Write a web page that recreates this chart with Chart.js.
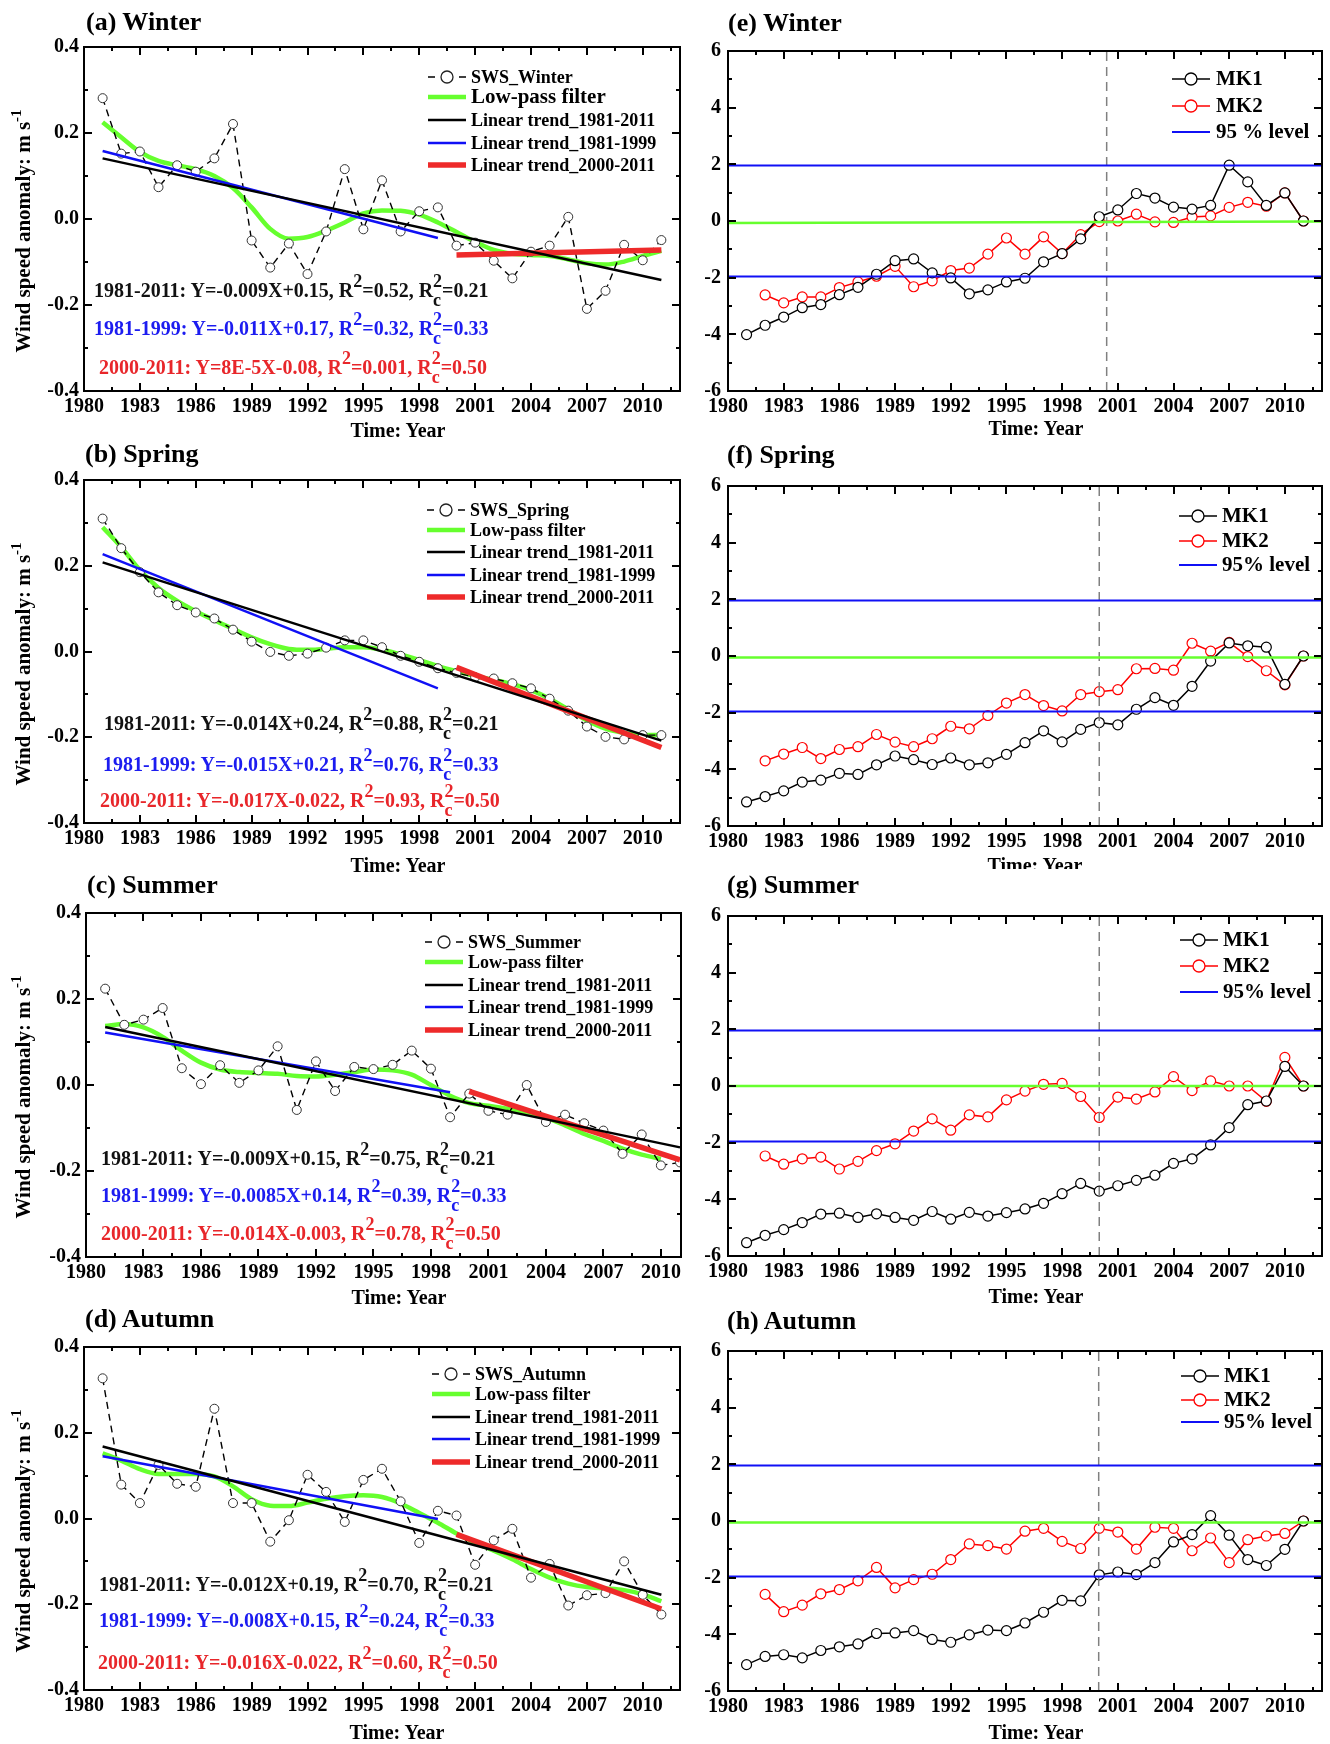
<!DOCTYPE html>
<html><head><meta charset="utf-8">
<script src="https://cdn.jsdelivr.net/npm/chart.js@4.4.0/dist/chart.umd.min.js"></script>
<style>
html,body{margin:0;padding:0;background:#fff;}
body{width:1330px;height:1744px;position:relative;overflow:hidden;font-family:"Liberation Serif","Times New Roman",serif;font-weight:bold;color:#000;}
canvas{position:absolute;}
.t{position:absolute;white-space:nowrap;z-index:3;}
.ptitle{font-size:26px;line-height:30px;z-index:7;}
.eq{font-size:20px;line-height:24px;}
.xt{font-size:20px;line-height:24px;transform:translateX(-50%);}
.yt{font-size:21px;line-height:24px;transform:translate(-50%,-50%) rotate(-90deg);}
.sp{font-size:18px;position:relative;top:-10px;}
.st{display:inline-block;position:relative;width:9px;height:0;}
.st .a{position:absolute;left:0;top:-25px;font-size:18px;line-height:18px;}
.st .b{position:absolute;left:0;top:-6px;font-size:18px;line-height:18px;}
.ysup{font-size:15px;position:relative;top:-9px;}
.mask{position:absolute;background:#fff;z-index:5;}
</style></head>
<body>
<script>
// ---------------- DATA ----------------
const YEARS = [1981,1982,1983,1984,1985,1986,1987,1988,1989,1990,1991,1992,1993,1994,1995,1996,1997,1998,1999,2000,2001,2002,2003,2004,2005,2006,2007,2008,2009,2010,2011];
const YEARS_MK2 = [1982,1983,1984,1985,1986,1987,1988,1989,1990,1991,1992,1993,1994,1995,1996,1997,1998,1999,2000,2001,2002,2003,2004,2005,2006,2007,2008,2009,2010,2011];
const YEARS_LP_SUMMER = [1981,1982,1983,1984,1985,1986,1987,1988,1989,1990,1991,1992,1993,1994,1995,1996,1997,1998,1999,2000,2001,2002,2003,2004,2005,2006,2007,2008,2009,2010];
const X_TICK_STEP = 3;

const SWS_WINTER = [0.281,0.152,0.157,0.074,0.125,0.11,0.141,0.221,-0.050,-0.113,-0.057,-0.128,-0.029,0.116,-0.024,0.090,-0.029,0.018,0.027,-0.062,-0.055,-0.097,-0.138,-0.076,-0.062,0.005,-0.209,-0.167,-0.060,-0.096,-0.049];
const LP_WINTER = [0.225,0.19,0.156,0.135,0.125,0.116,0.10,0.072,0.027,-0.023,-0.046,-0.042,-0.027,-0.008,0.013,0.02,0.019,0.01,-0.008,-0.03,-0.053,-0.072,-0.081,-0.084,-0.086,-0.094,-0.103,-0.106,-0.099,-0.086,-0.074];
const SWS_SPRING = [0.31,0.241,0.185,0.138,0.108,0.091,0.077,0.051,0.023,-0.001,-0.01,-0.005,0.009,0.026,0.026,0.01,-0.01,-0.024,-0.039,-0.05,-0.06,-0.063,-0.074,-0.086,-0.11,-0.138,-0.175,-0.199,-0.205,-0.195,-0.195];
const LP_SPRING = [0.29,0.243,0.19,0.148,0.118,0.094,0.073,0.053,0.033,0.017,0.006,0.004,0.006,0.01,0.01,0.004,-0.007,-0.02,-0.034,-0.046,-0.057,-0.066,-0.076,-0.09,-0.11,-0.135,-0.161,-0.18,-0.19,-0.195,-0.195];
const SWS_SUMMER = [0.224,0.14,0.152,0.179,0.039,0.002,0.046,0.005,0.034,0.09,-0.058,0.055,-0.014,0.042,0.037,0.047,0.08,0.038,-0.075,-0.02,-0.06,-0.069,0.0,-0.086,-0.069,-0.089,-0.106,-0.16,-0.115,-0.187,-0.18];
const LP_SUMMER = [0.137,0.142,0.134,0.112,0.08,0.052,0.036,0.03,0.028,0.026,0.021,0.02,0.024,0.03,0.036,0.034,0.024,0.0,-0.025,-0.042,-0.048,-0.055,-0.064,-0.076,-0.094,-0.114,-0.13,-0.148,-0.162,-0.172];
const SWS_AUTUMN = [0.327,0.079,0.036,0.125,0.081,0.074,0.256,0.036,0.036,-0.054,-0.004,0.102,0.062,-0.008,0.09,0.116,0.04,-0.057,0.018,0.007,-0.108,-0.051,-0.024,-0.138,-0.106,-0.203,-0.179,-0.174,-0.1,-0.178,-0.224];
const LP_AUTUMN = [0.152,0.135,0.115,0.104,0.104,0.104,0.098,0.075,0.045,0.03,0.029,0.037,0.046,0.052,0.054,0.05,0.035,0.013,-0.01,-0.035,-0.057,-0.075,-0.095,-0.118,-0.138,-0.152,-0.16,-0.163,-0.167,-0.177,-0.193];

const TREND_X_ALL = [1981, 2011];
const TREND_X_8199 = [1981, 1999];
const TREND_X_0011 = [2000, 2011];
const TR_ALL_WINTER = [0.141, -0.142];
const TR_8199_WINTER = [0.158, -0.044];
const TR_0011_WINTER = [-0.084, -0.072];
const TR_ALL_SPRING = [0.208, -0.208];
const TR_8199_SPRING = [0.227, -0.086];
const TR_0011_SPRING = [-0.037, -0.224];
const TR_ALL_SUMMER = [0.135, -0.145];
const TR_8199_SUMMER = [0.122, -0.017];
const TR_0011_SUMMER = [-0.015, -0.174];
const TR_ALL_AUTUMN = [0.168, -0.178];
const TR_8199_AUTUMN = [0.145, -0.001];
const TR_0011_AUTUMN = [-0.037, -0.211];

const MK1_WINTER = [-4.01,-3.68,-3.39,-3.06,-2.95,-2.60,-2.34,-1.88,-1.40,-1.34,-1.83,-2.01,-2.57,-2.43,-2.15,-2.02,-1.44,-1.15,-0.63,0.15,0.39,0.97,0.81,0.49,0.42,0.55,1.97,1.38,0.55,0.99,0.0];
const MK2_WINTER = [-2.61,-2.89,-2.68,-2.68,-2.35,-2.15,-1.95,-1.60,-2.32,-2.11,-1.75,-1.66,-1.17,-0.60,-1.17,-0.56,-1.15,-0.48,-0.02,0.0,0.24,-0.03,-0.05,0.14,0.18,0.48,0.66,0.52,0.99,0.0];
const MK1_SPRING = [-5.15,-4.96,-4.76,-4.45,-4.38,-4.14,-4.18,-3.84,-3.53,-3.66,-3.83,-3.60,-3.84,-3.77,-3.47,-3.06,-2.64,-3.03,-2.59,-2.35,-2.43,-1.88,-1.47,-1.74,-1.07,-0.18,0.46,0.36,0.31,-1.0,0.0];
const MK2_SPRING = [-3.70,-3.46,-3.23,-3.62,-3.30,-3.20,-2.77,-3.04,-3.20,-2.92,-2.48,-2.57,-2.10,-1.66,-1.36,-1.75,-1.94,-1.36,-1.26,-1.19,-0.45,-0.44,-0.50,0.45,0.17,0.48,-0.02,-0.52,-1.02,0.0];
const MK1_SUMMER = [-5.53,-5.27,-5.07,-4.82,-4.52,-4.49,-4.64,-4.51,-4.64,-4.74,-4.43,-4.70,-4.46,-4.59,-4.47,-4.34,-4.14,-3.80,-3.44,-3.71,-3.52,-3.33,-3.15,-2.73,-2.57,-2.08,-1.47,-0.66,-0.53,0.69,0.0];
const MK2_SUMMER = [-2.47,-2.76,-2.57,-2.51,-2.93,-2.66,-2.28,-2.04,-1.59,-1.16,-1.56,-1.02,-1.09,-0.49,-0.18,0.06,0.09,-0.37,-1.11,-0.39,-0.46,-0.21,0.33,-0.16,0.18,0.0,0.0,-0.54,1.01,0.0];
const MK1_AUTUMN = [-5.07,-4.78,-4.72,-4.83,-4.57,-4.44,-4.34,-3.97,-3.95,-3.87,-4.18,-4.28,-4.02,-3.85,-3.87,-3.60,-3.22,-2.80,-2.82,-1.90,-1.80,-1.89,-1.47,-0.74,-0.48,0.19,-0.5,-1.36,-1.57,-1.0,0.0];
const MK2_AUTUMN = [-2.59,-3.2,-2.97,-2.57,-2.42,-2.11,-1.64,-2.36,-2.07,-1.88,-1.36,-0.81,-0.87,-0.99,-0.36,-0.26,-0.72,-0.97,-0.26,-0.39,-0.99,-0.22,-0.26,-1.05,-0.60,-1.47,-0.66,-0.53,-0.44,0.0];

const MK_LINE_X = [1980, 2012];
const CONF_UP = [1.96, 1.96];
const CONF_DN = [-1.96, -1.96];
const REF_WINTER = [-0.07, -0.02];
const REF_SPRING = [-0.05, -0.05];
const REF_SUMMER = [0.0, 0.0];
const REF_AUTUMN = [-0.05, -0.05];
const CHANGE_YEAR = {winter: 2000.4, spring: 2000, summer: 2000, autumn: 1999.97};

const EQ = {
  a: [['1981-2011','Y=-0.009X+0.15','0.52','0.21'],['1981-1999','Y=-0.011X+0.17','0.32','0.33'],['2000-2011','Y=8E-5X-0.08','0.001','0.50']],
  b: [['1981-2011','Y=-0.014X+0.24','0.88','0.21'],['1981-1999','Y=-0.015X+0.21','0.76','0.33'],['2000-2011','Y=-0.017X-0.022','0.93','0.50']],
  c: [['1981-2011','Y=-0.009X+0.15','0.75','0.21'],['1981-1999','Y=-0.0085X+0.14','0.39','0.33'],['2000-2011','Y=-0.014X-0.003','0.78','0.50']],
  d: [['1981-2011','Y=-0.012X+0.19','0.70','0.21'],['1981-1999','Y=-0.008X+0.15','0.24','0.33'],['2000-2011','Y=-0.016X-0.022','0.60','0.50']]
};

// ---------------- STYLE / LAYOUT ----------------
const FONT = '"Liberation Serif", "Times New Roman", serif';
const GREEN = '#66ff2e', BLUE = '#1010f5', RED = '#ee2a2a', EQBLUE = '#1c1cf0', EQRED = '#e8262a';

function pts(xs, ys){ return ys.map((v,i)=>({x:xs[i], y:v})); }

const framePlugin = {
  id: 'frameTicks',
  afterDraw(chart, args, o){
    const {ctx, chartArea:a, scales:{x, y}} = chart;
    ctx.save();
    ctx.strokeStyle = '#000'; ctx.lineWidth = 2; ctx.setLineDash([]);
    ctx.strokeRect(a.left, a.top, a.right-a.left, a.bottom-a.top);
    ctx.beginPath();
    const nX = Math.floor((x.max - x.min)/o.xMinor + 1e-6);
    for(let i=0;i<=nX;i++){
      const v = x.min + i*o.xMinor, px = Math.round(x.getPixelForValue(v));
      const r = (v - x.min)/o.xMajor, maj = Math.abs(r - Math.round(r)) < 1e-6;
      const L = maj ? 8 : 4;
      ctx.moveTo(px, a.bottom); ctx.lineTo(px, a.bottom - L);
      ctx.moveTo(px, a.top); ctx.lineTo(px, a.top + L);
    }
    const nY = Math.round((y.max - y.min)/o.yMinor);
    for(let i=0;i<=nY;i++){
      const v = y.min + i*o.yMinor, py = Math.round(y.getPixelForValue(v));
      const r = (v - y.min)/o.yMajor, maj = Math.abs(r - Math.round(r)) < 1e-6;
      const L = maj ? 8 : 4;
      ctx.moveTo(a.left, py); ctx.lineTo(a.left + L, py);
      ctx.moveTo(a.right, py); ctx.lineTo(a.right - L, py);
    }
    ctx.stroke();
    ctx.restore();
  }
};

const legendPlugin = {
  id: 'panelLegend',
  afterDraw(chart, args, o){
    if(!o || !o.items) return;
    const {ctx, chartArea:a} = chart;
    ctx.save();
    o.items.forEach((it,i)=>{
      const y = a.top + o.rows[i];
      const x0 = a.left + o.sx, x1 = x0 + o.sw, xc = (x0+x1)/2;
      ctx.strokeStyle = it.color; ctx.lineWidth = it.width; ctx.setLineDash([]);
      ctx.beginPath();
      if(it.kind === 'sws'){
        ctx.moveTo(x0, y); ctx.lineTo(x0+7, y);
        ctx.moveTo(x1-7, y); ctx.lineTo(x1, y);
      } else {
        ctx.moveTo(x0, y); ctx.lineTo(x1, y);
      }
      ctx.stroke();
      if(it.r){
        ctx.beginPath(); ctx.arc(xc, y, it.r, 0, Math.PI*2);
        ctx.fillStyle = '#fff'; ctx.fill();
        ctx.lineWidth = 1.3; ctx.strokeStyle = it.mcolor || it.color; ctx.stroke();
      }
      ctx.font = 'bold ' + (it.size || o.size) + 'px ' + FONT;
      ctx.fillStyle = '#000'; ctx.textBaseline = 'middle'; ctx.textAlign = 'left';
      ctx.fillText(it.text, a.left + o.tx, y + 1);
    });
    ctx.restore();
  }
};

function makeCanvas(left, top, w, h){
  const c = document.createElement('canvas');
  c.width = w; c.height = h;
  c.style.left = left+'px'; c.style.top = top+'px';
  c.style.width = w+'px'; c.style.height = h+'px';
  document.body.appendChild(c);
  return c;
}

function baseOptions(cvLeft, cvW, frame, xmax, y, legend){
  const [fl, ft, fr, fb] = frame;
  return {
    responsive:false, animation:false, devicePixelRatio:1,
    layout:{autoPadding:false, padding:{top:10, right:(cvLeft+cvW)-fr, left:0, bottom:0}},
    plugins:{legend:{display:false}, tooltip:{enabled:false},
      frameTicks:{xMinor:1.5, xMajor:3, yMinor:y.minor, yMajor:y.step},
      panelLegend: legend},
    scales:{
      x:{type:'linear', min:1980, max:xmax,
        ticks:{stepSize:X_TICK_STEP, includeBounds:false, autoSkip:false, maxRotation:0, padding:4, color:'#000',
          font:{family:FONT, weight:'bold', size:20}, callback:v=>String(Math.round(v))},
        grid:{display:false, drawTicks:false}, border:{display:false},
        afterFit:s=>{ s.height = 40; }},
      y:{type:'linear', min:y.min, max:y.max,
        ticks:{stepSize:y.step, padding:y.pad, color:'#000', font:{family:FONT, weight:'bold', size:20}, callback:y.fmt},
        grid:{display:false, drawTicks:false}, border:{display:false},
        afterFit:s=>{ s.width = fl - cvLeft; }}
    }
  };
}

const LEFT = [
  {key:'a', name:'SWS_Winter', frame:[84,40,680,391], xmax:2012, sws:SWS_WINTER, lp:LP_WINTER, lpX:YEARS, all:TR_ALL_WINTER, a8199:TR_8199_WINTER, a0011:TR_0011_WINTER, lg:{sx:344, sw:38, tx:387, rows:[30,50,73,96,118]}, lpSize:21},
  {key:'b', name:'SWS_Spring', frame:[84,473,680,823], xmax:2012, sws:SWS_SPRING, lp:LP_SPRING, lpX:YEARS, all:TR_ALL_SPRING, a8199:TR_8199_SPRING, a0011:TR_0011_SPRING, lg:{sx:343, sw:38, tx:386, rows:[30,50,72,95,117]}, lpSize:18},
  {key:'c', name:'SWS_Summer', frame:[86,906,681,1257], xmax:2011.05, sws:SWS_SUMMER, lp:LP_SUMMER, lpX:YEARS_LP_SUMMER, all:TR_ALL_SUMMER, a8199:TR_8199_SUMMER, a0011:TR_0011_SUMMER, lg:{sx:339, sw:38, tx:382, rows:[29,49,72,94,117]}, lpSize:18},
  {key:'d', name:'SWS_Autumn', frame:[84,1340,680,1690], xmax:2012, sws:SWS_AUTUMN, lp:LP_AUTUMN, lpX:YEARS, all:TR_ALL_AUTUMN, a8199:TR_8199_AUTUMN, a0011:TR_0011_AUTUMN, lg:{sx:348, sw:38, tx:391, rows:[27,47,70,92,115]}, lpSize:18}
];

LEFT.forEach(p=>{
  const [fl, ft, fr, fb] = p.frame;
  const cvL = 0, cvW = 700, cvT = ft - 10, cvH = (fb - ft) + 10 + 40;
  const cv = makeCanvas(cvL, cvT, cvW, cvH);
  const legend = Object.assign({size:18, items:[
    {kind:'sws', color:'#000', width:1.5, r:6, mcolor:'#222', text:p.name},
    {kind:'line', color:GREEN, width:4.5, text:'Low-pass filter', size:p.lpSize},
    {kind:'line', color:'#000', width:2.5, text:'Linear trend_1981-2011'},
    {kind:'line', color:BLUE, width:2.5, text:'Linear trend_1981-1999'},
    {kind:'line', color:RED, width:5.5, text:'Linear trend_2000-2011'}
  ]}, p.lg);
  const opts = baseOptions(cvL, cvW, p.frame, p.xmax,
    {min:-0.4, max:0.4, step:0.2, minor:0.1, pad:5, fmt:v=>(Math.abs(v)<1e-9?'0.0':v.toFixed(1))}, legend);
  new Chart(cv, {type:'line', data:{datasets:[
    {data:pts(TREND_X_ALL, p.all), borderColor:'#000', borderWidth:2.5, pointRadius:0},
    {data:pts(TREND_X_8199, p.a8199), borderColor:BLUE, borderWidth:2.5, pointRadius:0},
    {data:pts(TREND_X_0011, p.a0011), borderColor:RED, borderWidth:5.5, pointRadius:0},
    {data:pts(YEARS, p.sws), borderColor:'#000', borderWidth:1.4, borderDash:[7,5], pointRadius:4.5, pointBackgroundColor:'#fff', pointBorderColor:'#333', pointBorderWidth:1},
    {data:pts(p.lpX, p.lp), borderColor:GREEN, borderWidth:4.5, pointRadius:0, cubicInterpolationMode:'monotone'}
  ]}, options:opts, plugins:[framePlugin, legendPlugin]});
});

const RIGHT = [
  {key:'e', frame:[728,42,1322,391], mk1:MK1_WINTER, mk2:MK2_WINTER, ref:REF_WINTER, cy:CHANGE_YEAR.winter, lvl:'95 % level', lg:{sx:444, sw:38, tx:488, rows:[28,55,81]}},
  {key:'f', frame:[728,477,1322,826], mk1:MK1_SPRING, mk2:MK2_SPRING, ref:REF_SPRING, cy:CHANGE_YEAR.spring, lvl:'95% level', lg:{sx:451, sw:38, tx:494, rows:[30,55,79]}},
  {key:'g', frame:[728,907,1322,1256], mk1:MK1_SUMMER, mk2:MK2_SUMMER, ref:REF_SUMMER, cy:CHANGE_YEAR.summer, lvl:'95% level', lg:{sx:452, sw:38, tx:495, rows:[24,50,76]}},
  {key:'h', frame:[728,1342,1322,1691], mk1:MK1_AUTUMN, mk2:MK2_AUTUMN, ref:REF_AUTUMN, cy:CHANGE_YEAR.autumn, lvl:'95% level', lg:{sx:453, sw:38, tx:496, rows:[25,49,71]}}
];

RIGHT.forEach(p=>{
  const [fl, ft, fr, fb] = p.frame;
  const cvL = 690, cvW = 640, cvT = ft - 10, cvH = (fb - ft) + 10 + 40;
  const cv = makeCanvas(cvL, cvT, cvW, cvH);
  const legend = Object.assign({size:21, items:[
    {kind:'mk', color:'#000', width:1.5, r:6, text:'MK1'},
    {kind:'mk', color:'#f00', width:1.5, r:6, text:'MK2'},
    {kind:'line', color:BLUE, width:2, text:p.lvl}
  ]}, p.lg);
  const opts = baseOptions(cvL, cvW, p.frame, 2012,
    {min:-6, max:6, step:2, minor:1, pad:7, fmt:v=>String(Math.round(v))}, legend);
  new Chart(cv, {type:'line', data:{datasets:[
    {data:pts(MK_LINE_X, CONF_UP), borderColor:BLUE, borderWidth:2, pointRadius:0},
    {data:pts(MK_LINE_X, CONF_DN), borderColor:BLUE, borderWidth:2, pointRadius:0},
    {data:pts(MK_LINE_X, p.ref), borderColor:GREEN, borderWidth:2.5, pointRadius:0},
    {data:[{x:p.cy, y:-6},{x:p.cy, y:6}], borderColor:'#808080', borderWidth:1.5, borderDash:[9,6], pointRadius:0},
    {data:pts(YEARS, p.mk1), borderColor:'#000', borderWidth:1.5, pointRadius:5, pointBackgroundColor:'#fff', pointBorderColor:'#000', pointBorderWidth:1.2},
    {data:pts(YEARS_MK2, p.mk2), borderColor:'#f00', borderWidth:1.5, pointRadius:5, pointBackgroundColor:'#fff', pointBorderColor:'#f00', pointBorderWidth:1.2}
  ]}, options:opts, plugins:[framePlugin, legendPlugin]});
});

// ---------------- TEXT OVERLAYS ----------------
function addText(cls, html, left, top, color){
  const d = document.createElement('div');
  d.className = 't ' + cls; d.innerHTML = html;
  d.style.left = left+'px'; d.style.top = top+'px';
  if(color) d.style.color = color;
  document.body.appendChild(d);
  return d;
}
// mask that hides the bottom of panel (f)'s axis title, as in the original
const m = document.createElement('div'); m.className='mask';
m.style.left='690px'; m.style.top='869px'; m.style.width='640px'; m.style.height='7px';
document.body.appendChild(m);

const TITLES = [['(a) Winter',86,31],['(b) Spring',85,463],['(c) Summer',87,894],['(d) Autumn',85,1328],
                ['(e) Winter',728,32],['(f) Spring',727,464],['(g) Summer',727,894],['(h) Autumn',727,1330]];
TITLES.forEach(([t,x,bl])=>addText('ptitle', t, x, bl-24));

const XT = [[398,430],[398,865],[399,1297],[397,1732],[1036,428],[1035,865],[1036,1296],[1036,1732]];
XT.forEach(([cx,cy])=>addText('xt','Time: Year',cx,cy-12));

[231,664,1097,1531].forEach(cy=>addText('yt','Wind speed anomaly: m s<span class="ysup">-1</span>',24,cy));

function eqHtml(e){
  return e[0]+': '+e[1]+', R<span class="sp">2</span>='+e[2]+', R<span class="st"><span class="a">2</span><span class="b">c</span></span>='+e[3];
}
const EQPOS = {
  a:[[94,290],[94,328],[99,367]],
  b:[[104,723],[103,764],[100,800]],
  c:[[101,1158],[101,1195],[101,1233]],
  d:[[99,1584],[99,1620],[98,1662]]
};
const EQCOL = ['#111', EQBLUE, EQRED];
['a','b','c','d'].forEach(k=>{
  EQ[k].forEach((e,i)=>{ const [x,cy] = EQPOS[k][i]; addText('eq', eqHtml(e), x, cy-12, EQCOL[i]); });
});
</script>
</body></html>
